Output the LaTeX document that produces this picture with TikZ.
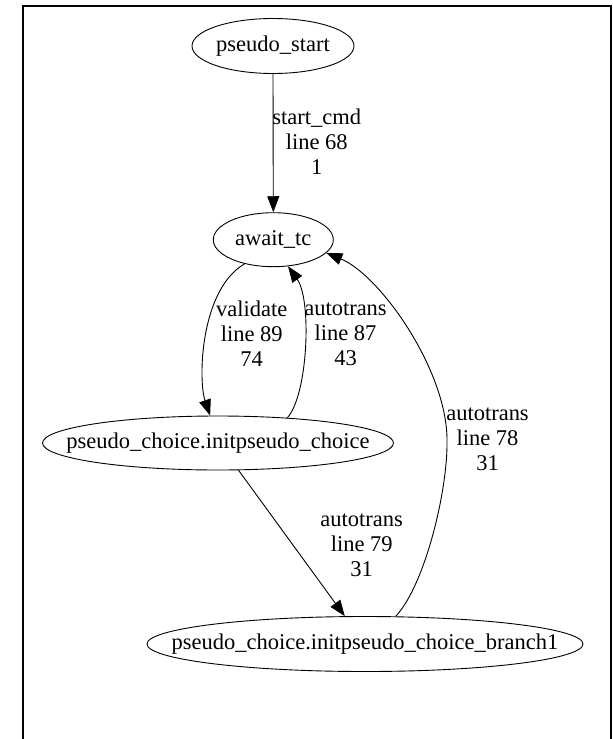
\documentclass[tikz,border=0pt]{standalone}
\usepackage{fontspec}
\setmainfont{Liberation Serif}
\usetikzlibrary{arrows.meta,shapes.geometric}

% state label that does not widen the ellipse around it
\newcommand{\statelabel}[1]{\makebox[0pt]{#1}}

\tikzset{
  state/.style={draw, ellipse, line width=0.9pt, inner sep=0pt,
    font=\fontsize{22.5}{25}\selectfont},
  edgelabel/.style={align=center, inner sep=0pt,
    font=\fontsize{22.5}{25}\selectfont},
  trans/.style={line width=0.9pt, -{Triangle[length=16pt,width=12pt]}},
  frame/.style={line width=2pt}
}

\begin{document}
\begin{tikzpicture}[x=1pt, y=-1pt]
  \useasboundingbox (0,0) rectangle (613,739);

  % outer frame, open at the bottom
  \draw[frame] (23,739) -- (23,6) -- (610.7,6) -- (610.7,739);

  % states
  \node[state, minimum width=162pt, minimum height=55pt] (ps) at (273,46)
    {\statelabel{pseudo\_start}};
  \node[state, minimum width=120pt, minimum height=54pt] (ac) at (273.3,239.7)
    {\statelabel{await\_tc}};
  \node[state, minimum width=351pt, minimum height=54pt] (pc) at (218,443)
    {\statelabel{pseudo\_choice.initpseudo\_choice}};
  \node[state, minimum width=436pt, minimum height=55pt] (pb) at (365,644)
    {\statelabel{pseudo\_choice.initpseudo\_choice\_branch1}};

  % transitions
  \draw[trans] (ps.south) -- (ac.north);
  \draw[trans] (ac.220) .. controls (200,290) and (198,380) .. (pc.106);
  \draw[trans] (pc.20.5) .. controls (308,395) and (312,300) .. (ac.299);
  \draw[trans] (pc.307) -- (pb.126.5);
  \coordinate (k78) at (447,440);
  \draw[trans] (pb.42) .. controls (425,585) and (448,490) .. (k78)
                       .. controls (447,370) and (380,275) .. (ac.346);

  % transition labels
  \node[edgelabel] (l68) at (316.7,142) {start\_cmd\\line 68\\1};
  \node[edgelabel] (l89) at (251.7,334) {validate\\line 89\\74};
  \node[edgelabel] (l87) at (345.5,334) {autotrans\\line 87\\43};
  \node[edgelabel] (l78) at (487.5,439) {autotrans\\line 78\\31};
  \node[edgelabel] (l79) at (361.7,545.5) {autotrans\\line 79\\31};
\end{tikzpicture}
\end{document}
